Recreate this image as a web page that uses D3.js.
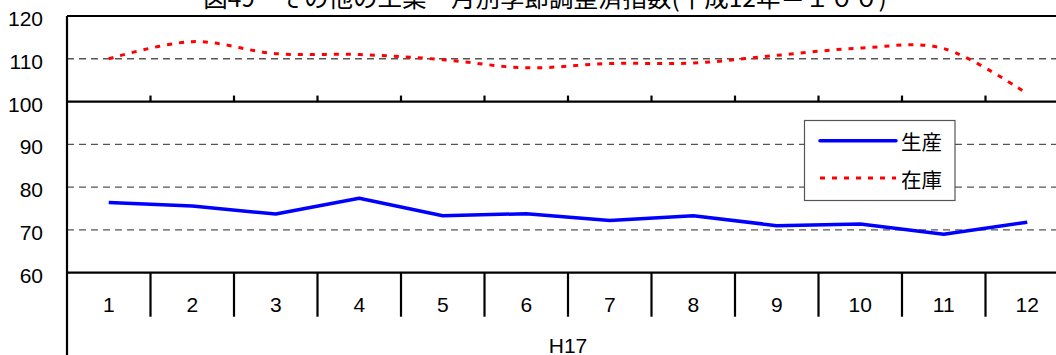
<!DOCTYPE html>
<html><head><meta charset="utf-8">
<script src="https://cdn.jsdelivr.net/npm/d3@7/dist/d3.min.js"></script>
<style>
html,body{margin:0;padding:0;background:#fff;overflow:hidden;}
svg{display:block;}
</style></head>
<body>
<svg id="chart" width="1056" height="355"></svg>
<script>
const titleText = "図49　その他の工業　月別季節調整済指数(平成12年＝１００)";
const months = ["1","2","3","4","5","6","7","8","9","10","11","12"];
const production = [76.4, 75.6, 73.7, 77.4, 73.3, 73.8, 72.2, 73.3, 71.0, 71.4, 69.0, 71.8];
const inventory = [110.0, 114.0, 111.2, 111.0, 109.8, 107.9, 108.9, 109.0, 110.8, 112.5, 112.4, 101.8];
const yTicks = [60, 70, 80, 90, 100, 110, 120];
const gridValues = [70, 80, 90, 110];
const seriesNames = ["生産", "在庫"];
const eraLabel = "H17";

(function () {
const svg = d3.select("#chart");
const pLeft = 67, pRight = 1069, pTop = 16, pBottom = 272.7;
const x = d3.scaleBand().domain(months).range([pLeft, pRight]).padding(0);
const y = d3.scaleLinear().domain([60, 120]).range([pBottom, pTop]);
const cx = d => x(d) + x.bandwidth() / 2;
const numFont = "'Liberation Sans', Arial, sans-serif";
const jpFont = "'Noto Sans CJK JP', sans-serif";

// title
svg.append("text").attr("x", 545).attr("y", 7).attr("text-anchor", "middle")
  .attr("font-family", jpFont).attr("font-size", 24.5).attr("fill", "#000").text(titleText);

// gridlines
svg.append("g").selectAll("line").data(gridValues).join("line")
  .attr("x1", pLeft).attr("x2", pRight).attr("y1", d => y(d)).attr("y2", d => y(d))
  .attr("stroke", "#555").attr("stroke-width", 1.4).attr("stroke-dasharray", "7,5");

// y labels
svg.append("g").selectAll("text").data(yTicks).join("text")
  .attr("x", 43).attr("y", d => y(d) + 10).attr("text-anchor", "end")
  .attr("font-family", numFont).attr("font-size", 21).attr("fill", "#000").text(d => d);

// frame lines
const ax = svg.append("g").attr("stroke", "#000").attr("stroke-width", 2.2);
ax.append("line").attr("x1", pLeft).attr("x2", pRight).attr("y1", y(120)).attr("y2", y(120));
ax.append("line").attr("x1", pLeft).attr("x2", pLeft).attr("y1", y(120)).attr("y2", 355);
ax.append("line").attr("x1", pLeft).attr("x2", pRight).attr("y1", y(100)).attr("y2", y(100));
ax.append("line").attr("x1", pLeft).attr("x2", pRight).attr("y1", y(60)).attr("y2", y(60));

// category boundary ticks
const bounds = months.slice(1).map(m => x(m));
ax.append("g").selectAll("line").data(bounds).join("line")
  .attr("x1", d => d).attr("x2", d => d).attr("y1", y(100)).attr("y2", y(100) - 6);
ax.append("g").selectAll("line").data(bounds).join("line")
  .attr("x1", d => d).attr("x2", d => d).attr("y1", y(60)).attr("y2", y(60) + 44);

// x labels
svg.append("g").selectAll("text").data(months).join("text")
  .attr("x", d => cx(d)).attr("y", 312).attr("text-anchor", "middle")
  .attr("font-family", numFont).attr("font-size", 21).attr("fill", "#000").text(d => d);
svg.append("text").attr("x", (pLeft + pRight) / 2).attr("y", 352.5).attr("text-anchor", "middle")
  .attr("font-family", numFont).attr("font-size", 21).attr("fill", "#000").text(eraLabel);

// lines
const lineProd = d3.line().x((d, i) => cx(months[i])).y(d => y(d));
const lineInv = d3.line().x((d, i) => cx(months[i])).y(d => y(d)).curve(d3.curveCardinal.tension(0));
svg.append("path").datum(production).attr("d", lineProd).attr("fill", "none")
  .attr("stroke", "#0000ff").attr("stroke-width", 3.5).attr("stroke-linejoin", "round");
svg.append("path").datum(inventory).attr("d", lineInv).attr("fill", "none")
  .attr("stroke", "#ff0000").attr("stroke-width", 3).attr("stroke-dasharray", "5,7");

// legend
const lg = svg.append("g");
lg.append("rect").attr("x", 804.5).attr("y", 120.5).attr("width", 150.5).attr("height", 80)
  .attr("fill", "#fff").attr("stroke", "#555").attr("stroke-width", 1.2);
lg.append("line").attr("x1", 820).attr("x2", 896).attr("y1", 140.7).attr("y2", 140.7)
  .attr("stroke", "#0000ff").attr("stroke-width", 3.5).attr("stroke-linecap", "round");
lg.append("line").attr("x1", 820).attr("x2", 896).attr("y1", 178).attr("y2", 178)
  .attr("stroke", "#ff0000").attr("stroke-width", 3).attr("stroke-dasharray", "5,7");
lg.selectAll("text").data(seriesNames).join("text")
  .attr("x", 901).attr("y", (d, i) => 150 + i * 38)
  .attr("font-family", jpFont).attr("font-size", 20.5).attr("fill", "#000").text(d => d);
})();
</script>
</body></html>
